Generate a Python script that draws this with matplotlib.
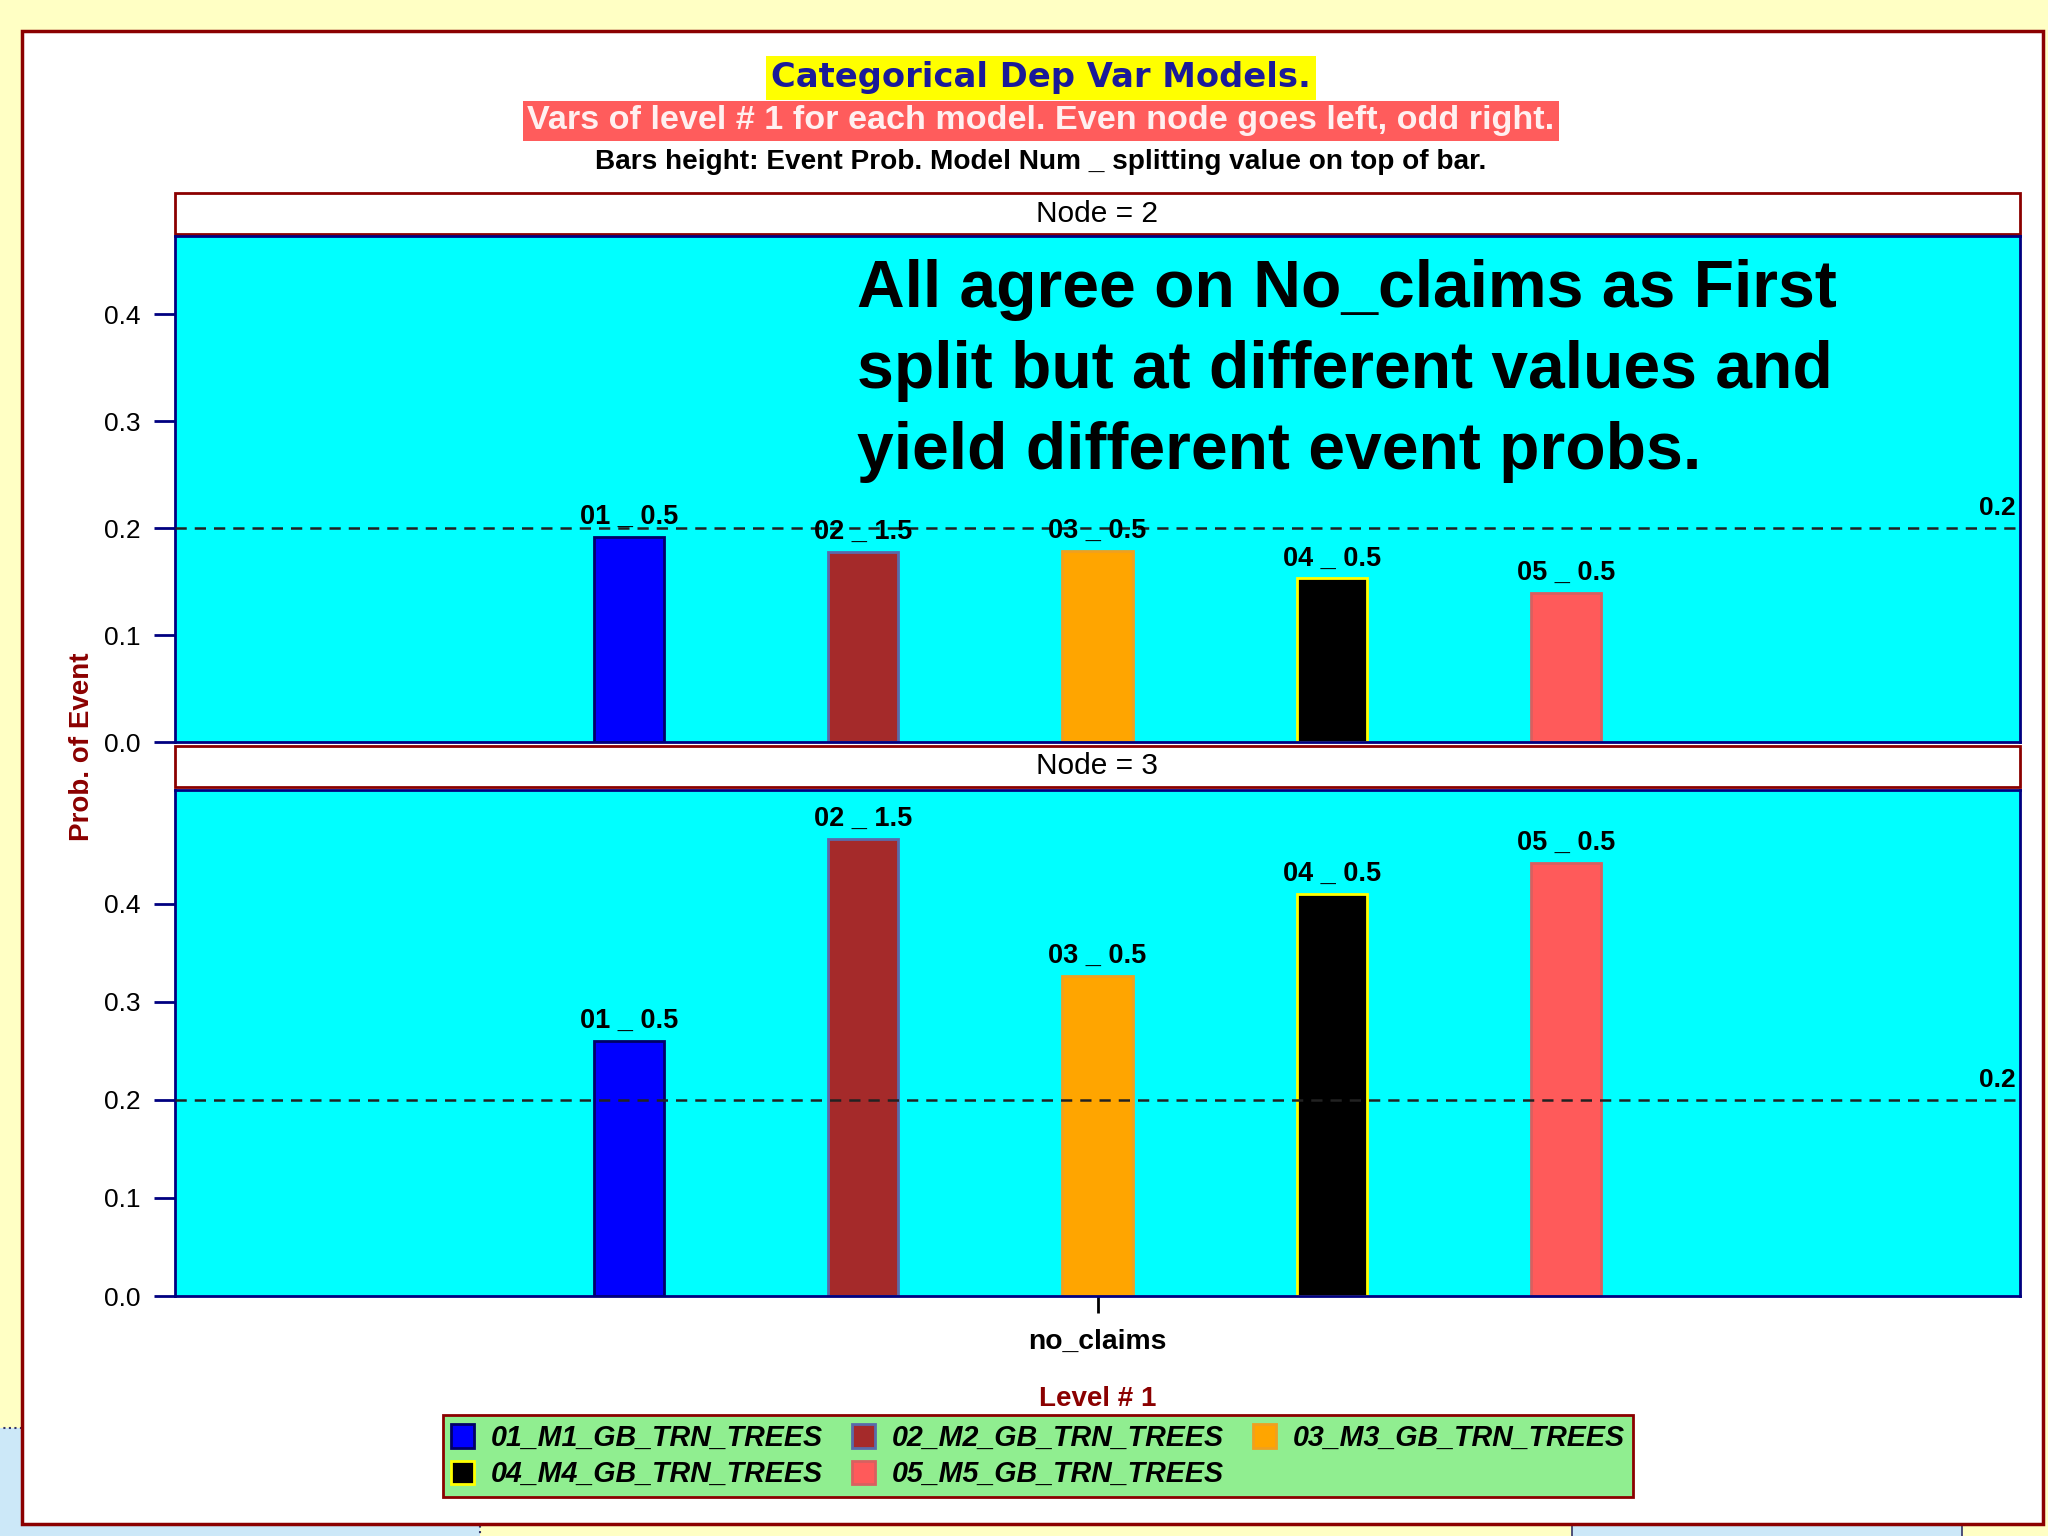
import matplotlib.pyplot as plt
import numpy as np
from matplotlib.patches import Rectangle

categories = ['no_claims']
model_ids = ['01', '02', '03', '04', '05']
model_names = ['01_M1_GB_TRN_TREES', '02_M2_GB_TRN_TREES', '03_M3_GB_TRN_TREES',
               '04_M4_GB_TRN_TREES', '05_M5_GB_TRN_TREES']
split_values = ['0.5', '1.5', '0.5', '0.5', '0.5']
node2_prob = [0.192, 0.178, 0.179, 0.153, 0.139]
node3_prob = [0.260, 0.466, 0.326, 0.410, 0.442]
ref_level = 0.2

bar_colors = ['#0000FF', '#A52A2A', '#FFA500', '#000000', '#FF5A5A']
edge_colors = ['#000066', '#5A6AAA', '#F0A020', '#FFFF00', '#D86060']

W, H = 2048, 1536
plt.rcParams['font.family'] = ['Liberation Sans', 'DejaVu Sans']


def box(x0, y0, x1, y1):
    # pixel box (top-left origin) -> figure fraction rect
    return [x0 / W, 1 - y1 / H, (x1 - x0) / W, (y1 - y0) / H]


def add_rect(fig, x0, y0, x1, y1, **kw):
    r = box(x0, y0, x1, y1)
    p = Rectangle((r[0], r[1]), r[2], r[3], transform=fig.transFigure, **kw)
    fig.add_artist(p)
    return p


fig = plt.figure(figsize=(20.48, 15.36), dpi=100, facecolor='#FFFFC4')

# background decorations
add_rect(fig, -5, 1428, 480, 1545, facecolor='#CCE8F8', edgecolor='#333366',
         linestyle=':', lw=1.5, zorder=-3)
add_rect(fig, 1572, 1500, 1962, 1545, facecolor='#CCE8F8', edgecolor='#333366',
         lw=1.2, zorder=-3)
add_rect(fig, 22, 31, 2043, 1524, facecolor='white', edgecolor='#8B0000',
         lw=2.5, zorder=-2)

# strips
for (y0, y1, node) in [(193, 234, 2), (746, 787, 3)]:
    add_rect(fig, 175, y0, 2020, y1, facecolor='white', edgecolor='#8B0000',
             lw=2, zorder=-1)
    fig.text(1097.5 / W, 1 - (y0 + y1) / 2 / H, 'Node = %d' % node,
             ha='center', va='center', fontsize=21.5)

# titles
fig.text(1041 / W, 1 - 78 / H, 'Categorical Dep Var Models.', family='DejaVu Sans',
         fontsize=24.3, weight='bold', color='#1A1A99', ha='center', va='center',
         bbox=dict(facecolor='#FFFF00', edgecolor='none', pad=4))
fig.text(1041 / W, 1 - 121 / H,
         'Vars of level # 1 for each model. Even node goes left, odd right.',
         fontsize=24.6, weight='bold', color='#FFF0F0', ha='center', va='center',
         bbox=dict(facecolor='#FF5C5C', edgecolor='none', pad=3))
fig.text(1041 / W, 1 - 162 / H,
         'Bars height: Event Prob. Model Num _ splitting value on top of bar.',
         fontsize=20.2, weight='bold', color='black', ha='center', va='center')

ax_top = fig.add_axes(box(175, 236, 2020, 742))
ax_bot = fig.add_axes(box(175, 790, 2020, 1296))

offsets = (np.arange(len(model_ids)) - 2) * 1.0
bars = []
for ax, probs, ymax in [(ax_top, node2_prob, 0.473), (ax_bot, node3_prob, 0.516)]:
    ax.set_facecolor('#00FFFF')
    bars = []
    for i in range(len(model_ids)):
        b = ax.bar(offsets[i], probs[i], width=0.3, color=bar_colors[i],
                   edgecolor=edge_colors[i], linewidth=2, zorder=2)
        bars.append(b)
        ax.annotate('%s _ %s' % (model_ids[i], split_values[i]),
                    (offsets[i], probs[i]), xytext=(0, 5), textcoords='offset points',
                    ha='center', va='bottom', fontsize=19.5, weight='bold', zorder=4)
    ax.axhline(ref_level, color='#222222', ls=(0, (4.5, 3.2)), lw=1.8, zorder=3)
    ax.annotate('%.1f' % ref_level, (1, ref_level), xycoords=('axes fraction', 'data'),
                xytext=(-3, 6), textcoords='offset points', ha='right', va='bottom',
                fontsize=19, weight='bold')
    ax.set_xlim(-3.94, 3.94)
    ax.set_ylim(0, ymax)
    ax.set_yticks([0.0, 0.1, 0.2, 0.3, 0.4])
    ax.set_yticklabels(['0.0', '0.1', '0.2', '0.3', '0.4'])
    ax.tick_params(axis='y', length=15, width=2, color='#000080', labelsize=19, pad=10)
    for s in ax.spines.values():
        s.set_color('#000080')
        s.set_linewidth(2)

ax_top.set_xticks([])
ax_bot.set_xticks([0])
ax_bot.set_xticklabels(categories, fontsize=20.3, weight='bold')
ax_bot.tick_params(axis='x', length=12, width=2, color='black', pad=12)
ax_bot.set_xlabel('Level # 1', fontsize=20, weight='bold', color='#8B0000', labelpad=22)

fig.text(82 / W, 1 - 747 / H, 'Prob. of Event', rotation=90, fontsize=20,
         weight='bold', color='#8B0000', ha='center', va='center')

fig.text(857 / W, 1 - 259 / H,
         'All agree on No_claims as First\nsplit but at different values and\n'
         'yield different event probs.',
         fontsize=47.5, weight='bold', ha='left', va='top', linespacing=1.4)

order = [0, 3, 1, 4, 2]
leg = fig.legend([bars[i] for i in order], [model_names[i] for i in order],
                 ncol=3, loc='center', bbox_to_anchor=(1038 / W, 1 - 1456 / H),
                 frameon=True, fancybox=False, facecolor='#90EE90',
                 edgecolor='#8B0000', framealpha=1,
                 prop=dict(family='Liberation Sans', weight='bold', style='italic', size=20.6),
                 handlelength=0.8, handleheight=0.9, handletextpad=0.6,
                 columnspacing=1.0, borderpad=0.3, labelspacing=0.3)
leg.get_frame().set_linewidth(2)

fig.savefig('out.png', dpi=100, facecolor=fig.get_facecolor())
